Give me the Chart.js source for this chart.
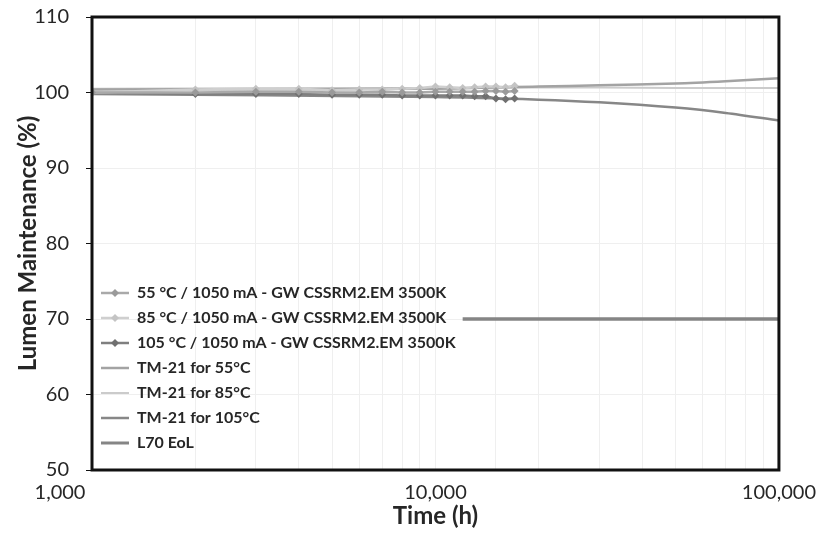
<!DOCTYPE html>
<html>
<head>
<meta charset="utf-8">
<script src="https://cdn.jsdelivr.net/npm/chart.js@4.4.1/dist/chart.umd.min.js"></script>
<style>
  html, body { margin: 0; padding: 0; background: #fff; }
  #wrap { width: 824px; height: 536px; }
</style>
</head>
<body>
<div id="wrap"><canvas id="chart" width="824" height="536"></canvas></div>
<script>
// measured hours (LM-80 style readouts)
const hours = [1000, 2000, 3000, 4000, 5000, 6000, 7000, 8000, 9000, 10000,
  11000, 12000, 13000, 14000, 15000, 16000, 17000];

const lm55 = [100.0, 100.0, 100.1, 100.1, 100.0, 100.0, 100.1, 100.0, 100.0, 100.1,
  100.1, 100.1, 100.1, 100.2, 100.2, 100.1, 100.2];
const lm85 = [100.0, 100.4, 100.5, 100.5, 100.3, 100.4, 100.4, 100.5, 100.6, 100.8,
  100.7, 100.6, 100.7, 100.8, 100.8, 100.7, 100.9];
const lm105 = [100.0, 99.8, 99.8, 99.8, 99.7, 99.7, 99.7, 99.6, 99.6, 99.6,
  99.6, 99.6, 99.5, 99.5, 99.2, 99.1, 99.2];

// TM-21 projections
const tmHours = [1000, 10000, 20000, 30000, 50000, 70000, 100000];
const tm55 = [100.4, 100.5, 100.8, 100.95, 101.2, 101.5, 101.9];
const tm85 = [100.5, 100.6, 100.65, 100.65, 100.6, 100.6, 100.6];
const tm105 = [99.8, 99.4, 99.05, 98.7, 98.0, 97.3, 96.3];

const eolHours = [12000, 100000];
const eolLevel = [70, 70];

const xLabels = [1000, 10000, 100000];

const labels = [
  "55 °C / 1050 mA - GW CSSRM2.EM 3500K",
  "85 °C / 1050 mA - GW CSSRM2.EM 3500K",
  "105 °C / 1050 mA - GW CSSRM2.EM 3500K",
  "TM-21 for 55°C",
  "TM-21 for 85°C",
  "TM-21 for 105°C",
  "L70 EoL",
];

const FONT = "Lato, 'Liberation Sans', sans-serif";
const TXT = "#262626";

const pts = (xs, ys) => xs.map((x, i) => ({ x, y: ys[i] }));

const measured = (label, ys, color, pointColor) => ({
  label,
  data: pts(hours, ys),
  borderColor: color,
  backgroundColor: pointColor,
  borderWidth: 2.5,
  pointStyle: "rectRot",
  pointRadius: 4,
  pointBorderWidth: 0,
  pointBackgroundColor: pointColor,
  tension: 0,
});

const line = (label, xs, ys, color, width) => ({
  label,
  data: pts(xs, ys),
  borderColor: color,
  backgroundColor: color,
  borderWidth: width,
  pointRadius: 0,
  tension: 0.3,
});

const datasets = [
  measured(labels[0], lm55, "#a9a9a9", "#9a9a9a"),
  measured(labels[1], lm85, "#cfcfcf", "#c4c4c4"),
  measured(labels[2], lm105, "#7f7f7f", "#707070"),
  line(labels[3], tmHours, tm55, "#a3a3a3", 2.5),
  line(labels[4], tmHours, tm85, "#cbcbcb", 2),
  line(labels[5], tmHours, tm105, "#878787", 2.5),
  line(labels[6], eolHours, eolLevel, "#858585", 3.5),
];

// small legend icon: line with a marker in the middle
function legendIcon(ds) {
  const c = document.createElement("canvas");
  c.width = 28;
  c.height = 10;
  const g = c.getContext("2d");
  g.strokeStyle = ds.borderColor;
  g.lineWidth = Math.min(ds.borderWidth, 3);
  g.beginPath();
  g.moveTo(0, 5);
  g.lineTo(28, 5);
  g.stroke();
  if (ds.pointRadius > 0) {
    g.fillStyle = ds.pointBackgroundColor;
    g.beginPath();
    g.moveTo(14, 1);
    g.lineTo(18, 5);
    g.lineTo(14, 9);
    g.lineTo(10, 5);
    g.closePath();
    g.fill();
  }
  return c;
}

const frame = {
  id: "frame",
  afterLayout(chart) {
    // legend sits in the lower left corner of the plot
    chart.legend.bottom = chart.chartArea.bottom - 10;
  },
  beforeDraw(chart) {
    const xs = chart.scales.x.getLabelItems(chart.chartArea);
    xs.forEach((it) => {
      it.options.translation[1] += 3;
      // Excel pushes the first x label left of the axis
      if (it.label === "1,000") it.options.translation[0] -= 32;
    });
    const ys = chart.scales.y.getLabelItems(chart.chartArea);
    ys.forEach((it) => { it.options.translation[0] -= 12; });
  },
  afterDatasetsDraw(chart) {
    const { ctx, chartArea: a } = chart;
    ctx.save();
    ctx.strokeStyle = "#111";
    ctx.lineWidth = 3;
    ctx.strokeRect(a.left, a.top, a.right - a.left, a.bottom - a.top);
    ctx.restore();
  },
};

const chart = new Chart(document.getElementById("chart"), {
  type: "line",
  data: { datasets },
  plugins: [frame],
  options: {
    responsive: false,
    devicePixelRatio: 1,
    animation: false,
    layout: { padding: { top: 17, right: 45, left: 0, bottom: 0 } },
    plugins: {
      tooltip: { enabled: false },
      legend: {
        position: "chartArea",
        align: "end",
        labels: {
          usePointStyle: true,
          pointStyleWidth: 28,
          padding: 9,
          color: TXT,
          font: { family: FONT, size: 16, weight: "bold" },
          generateLabels: (ch) =>
            ch.data.datasets.map((ds, i) => ({
              text: ds.label,
              pointStyle: legendIcon(ds),
              fillStyle: ds.borderColor,
              strokeStyle: ds.borderColor,
              lineWidth: 0,
              hidden: false,
              fontColor: TXT,
              datasetIndex: i,
            })),
        },
      },
    },
    scales: {
      x: {
        type: "logarithmic",
        min: 1000,
        max: 100000,
        afterFit: (s) => { s.height = 66; },
        border: { display: false },
        grid: { color: "#efefef", drawTicks: false },
        ticks: {
          autoSkip: false,
          maxRotation: 0,
          padding: 8,
          color: TXT,
          font: { family: FONT, size: 20 },
          callback: (v) => (xLabels.includes(v) ? v.toLocaleString("en-US") : ""),
        },
        title: {
          display: true,
          text: "Time (h)",
          color: TXT,
          padding: { top: 0, bottom: 5 },
          font: { family: FONT, size: 24, weight: "bold" },
        },
      },
      y: {
        min: 50,
        max: 110,
        afterFit: (s) => { s.width = 92; },
        border: { display: false },
        grid: { color: "#efefef", tickColor: "#111", tickLength: 6 },
        ticks: {
          stepSize: 10,
          padding: 5,
          color: TXT,
          font: { family: FONT, size: 20 },
        },
        title: {
          display: true,
          text: "Lumen Maintenance (%)",
          color: TXT,
          padding: { top: 14, bottom: 0 },
          font: { family: FONT, size: 24, weight: "bold" },
        },
      },
    },
  },
});
</script>
</body>
</html>
